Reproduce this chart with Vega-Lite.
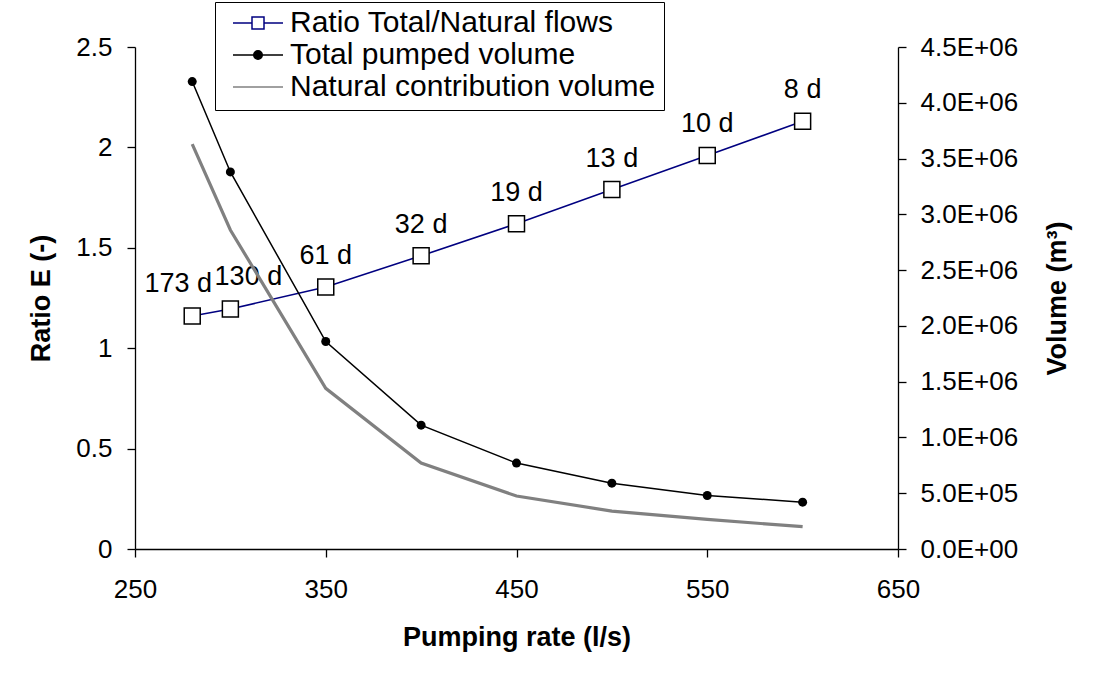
{
  "$schema": "https://vega.github.io/schema/vega-lite/v6.json",
  "width": 763,
  "height": 502,
  "autosize": {"type": "none"},
  "padding": {"left": 135, "top": 47, "right": 195, "bottom": 125},
  "background": "white",
  "config": {
    "font": "Liberation Sans",
    "view": {"stroke": null},
    "axis": {
      "grid": false,
      "labelFlush": false,
      "domainColor": "black",
      "domainWidth": 1.3,
      "tickColor": "black",
      "tickWidth": 1.3,
      "tickSize": 8,
      "labelColor": "black",
      "labelFontSize": 26,
      "labelFont": "Liberation Sans",
      "titleFont": "Liberation Sans",
      "titleFontSize": 27,
      "titleFontWeight": "bold",
      "titleColor": "black"
    },
    "legend": {
      "symbolOpacity": 1
    }
  },
  "datasets": {
    "ratio": [
      {"rate": 280, "ratio": 1.16, "label": "173 d"},
      {"rate": 300, "ratio": 1.195, "label": "130 d"},
      {"rate": 350, "ratio": 1.305, "label": "61 d"},
      {"rate": 400, "ratio": 1.46, "label": "32 d"},
      {"rate": 450, "ratio": 1.62, "label": "19 d"},
      {"rate": 500, "ratio": 1.79, "label": "13 d"},
      {"rate": 550, "ratio": 1.96, "label": "10 d"},
      {"rate": 600, "ratio": 2.13, "label": "8 d"}
    ],
    "volume": [
      {"rate": 280, "series": "Total pumped volume", "volume": 4190000},
      {"rate": 300, "series": "Total pumped volume", "volume": 3380000},
      {"rate": 350, "series": "Total pumped volume", "volume": 1860000},
      {"rate": 400, "series": "Total pumped volume", "volume": 1110000},
      {"rate": 450, "series": "Total pumped volume", "volume": 770000},
      {"rate": 500, "series": "Total pumped volume", "volume": 590000},
      {"rate": 550, "series": "Total pumped volume", "volume": 480000},
      {"rate": 600, "series": "Total pumped volume", "volume": 420000},
      {"rate": 280, "series": "Natural contribution volume", "volume": 3630000},
      {"rate": 300, "series": "Natural contribution volume", "volume": 2860000},
      {"rate": 350, "series": "Natural contribution volume", "volume": 1440000},
      {"rate": 400, "series": "Natural contribution volume", "volume": 770000},
      {"rate": 450, "series": "Natural contribution volume", "volume": 475000},
      {"rate": 500, "series": "Natural contribution volume", "volume": 340000},
      {"rate": 550, "series": "Natural contribution volume", "volume": 265000},
      {"rate": 600, "series": "Natural contribution volume", "volume": 200000},
      {"rate": 600, "series": "Ratio Total/Natural flows", "volume": 200000}
    ]
  },
  "layer": [
    {
      "data": {"name": "ratio"},
      "encoding": {
        "x": {
          "field": "rate", "type": "quantitative",
          "scale": {"domain": [250, 650], "nice": false},
          "axis": {"values": [250, 350, 450, 550, 650], "format": "d", "title": "Pumping rate (l/s)", "labelPadding": 19, "tickSize": 8, "titlePadding": 22}
        },
        "y": {
          "field": "ratio", "type": "quantitative",
          "scale": {"domain": [0, 2.5], "nice": false},
          "axis": {"orient": "left", "values": [0, 0.5, 1, 1.5, 2, 2.5], "format": "~g", "title": "Ratio E (-)", "labelPadding": 15, "titlePadding": 20}
        }
      },
      "layer": [
        {"mark": {"type": "line", "color": "#000080", "strokeWidth": 1.5}},
        {"mark": {"type": "point", "shape": "square", "size": 256, "filled": true, "fill": "white", "stroke": "black", "strokeWidth": 1.5, "opacity": 1}},
        {
          "transform": [{"filter": "datum.rate == 280"}],
          "mark": {"type": "text", "fontSize": 27, "color": "black", "baseline": "middle", "dx": -14, "dy": -32},
          "encoding": {"text": {"field": "label"}}
        },
        {
          "transform": [{"filter": "datum.rate == 300"}],
          "mark": {"type": "text", "fontSize": 27, "color": "black", "baseline": "middle", "dx": 18, "dy": -32},
          "encoding": {"text": {"field": "label"}}
        },
        {
          "transform": [{"filter": "datum.rate > 300"}],
          "mark": {"type": "text", "fontSize": 27, "color": "black", "baseline": "middle", "dx": 0, "dy": -31},
          "encoding": {"text": {"field": "label"}}
        }
      ]
    },
    {
      "data": {"name": "volume"},
      "encoding": {
        "x": {"field": "rate", "type": "quantitative", "scale": {"domain": [250, 650], "nice": false}},
        "y": {
          "field": "volume", "type": "quantitative",
          "scale": {"domain": [0, 4500000], "nice": false},
          "axis": {
            "orient": "right",
            "values": [0, 500000, 1000000, 1500000, 2000000, 2500000, 3000000, 3500000, 4000000, 4500000],
            "labelExpr": "datum.value == 0 ? '0.0E+00' : (datum.value < 1000000 ? format(datum.value/100000, '.1f') + 'E+05' : format(datum.value/1000000, '.1f') + 'E+06')",
            "title": "Volume (m³)",
            "titleAngle": 270,
            "titleBaseline": "top",
            "labelPadding": 14,
            "titlePadding": 27
          }
        }
      },
      "layer": [
        {
          "transform": [{"filter": "datum.series == 'Natural contribution volume'"}],
          "mark": {"type": "line", "color": "#808080", "strokeWidth": 3.2}
        },
        {
          "transform": [{"filter": "datum.series == 'Total pumped volume'"}],
          "mark": {"type": "line", "color": "black", "strokeWidth": 1.5}
        },
        {
          "transform": [{"filter": "datum.series == 'Total pumped volume'"}],
          "mark": {"type": "point", "shape": "circle", "size": 81, "filled": true, "color": "black", "opacity": 1}
        },
        {
          "mark": {"type": "point", "filled": true, "opacity": 0},
          "encoding": {
            "shape": {
              "field": "series", "type": "nominal",
              "scale": {
                "domain": ["Ratio Total/Natural flows", "Total pumped volume", "Natural contribution volume"],
                "range": [
                  "M-1,0H-0.24M0.24,0H1M-0.24,-0.24H0.24V0.24H-0.24Z",
                  "M-1,0H1M-0.17,0A0.17,0.17 0 1,0 0.17,0A0.17,0.17 0 1,0 -0.17,0Z",
                  "M-1,0H1"
                ]
              },
              "legend": {
                "title": null,
                "orient": "none",
                "legendX": 80,
                "legendY": -45,
                "strokeColor": "black",
                "fillColor": "white",
                "padding": 8,
                "symbolSize": 2500,
                "symbolOffset": 9,
                "labelFontSize": 30,
                "labelFont": "Liberation Sans",
                "labelColor": "black",
                "labelOffset": 6,
                "clipHeight": 26,
                "rowPadding": 2,
                "labelLimit": 600
              }
            },
            "fill": {
              "field": "series", "type": "nominal",
              "scale": {
                "domain": ["Ratio Total/Natural flows", "Total pumped volume", "Natural contribution volume"],
                "range": ["white", "black", "#808080"]
              }
            },
            "stroke": {
              "field": "series", "type": "nominal",
              "scale": {
                "domain": ["Ratio Total/Natural flows", "Total pumped volume", "Natural contribution volume"],
                "range": ["#000080", "black", "#808080"]
              }
            },
            "strokeWidth": {
              "field": "series", "type": "nominal",
              "scale": {
                "domain": ["Ratio Total/Natural flows", "Total pumped volume", "Natural contribution volume"],
                "range": [1.5, 1.5, 3.2]
              }
            }
          }
        }
      ]
    }
  ],
  "resolve": {"scale": {"y": "independent"}}
}
